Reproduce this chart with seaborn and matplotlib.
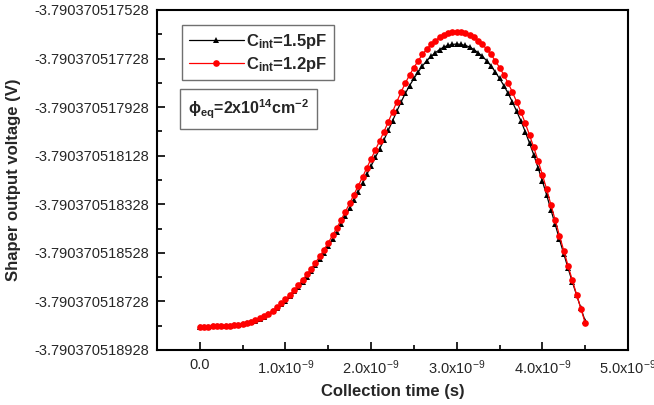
import numpy as np
import pandas as pd
import seaborn as sns
import matplotlib
matplotlib.use('Agg')
import matplotlib.pyplot as plt
from matplotlib.ticker import FixedLocator, FixedFormatter

# collection time (ns)
time_ns = [
    0.00, 0.05, 0.10, 0.15, 0.20, 0.25, 0.30, 0.35, 0.40, 0.45,
    0.50, 0.55, 0.60, 0.65, 0.70, 0.75, 0.80, 0.85, 0.90, 0.95,
    1.00, 1.05, 1.10, 1.15, 1.20, 1.25, 1.30, 1.35, 1.40, 1.45,
    1.50, 1.55, 1.60, 1.65, 1.70, 1.75, 1.80, 1.85, 1.90, 1.95,
    2.00, 2.05, 2.10, 2.15, 2.20, 2.25, 2.30, 2.35, 2.40, 2.45,
    2.50, 2.55, 2.60, 2.65, 2.70, 2.75, 2.80, 2.85, 2.90, 2.95,
    3.00, 3.05, 3.10, 3.15, 3.20, 3.25, 3.30, 3.35, 3.40, 3.45,
    3.50, 3.55, 3.60, 3.65, 3.70, 3.75, 3.80, 3.85, 3.90, 3.95,
    4.00, 4.05, 4.10, 4.15, 4.20, 4.25, 4.30, 4.35, 4.40, 4.45,
    4.50,
]

# shaper output (V), Cint = 1.5 pF
v_cint_15 = [
    -3.790370518832, -3.790370518832, -3.790370518832, -3.790370518831, -3.790370518831,
    -3.790370518830, -3.790370518829, -3.790370518828, -3.790370518826, -3.790370518824,
    -3.790370518821, -3.790370518818, -3.790370518813, -3.790370518807, -3.790370518799,
    -3.790370518791, -3.790370518780, -3.790370518769, -3.790370518755, -3.790370518740,
    -3.790370518725, -3.790370518707, -3.790370518687, -3.790370518668, -3.790370518647,
    -3.790370518626, -3.790370518603, -3.790370518579, -3.790370518555, -3.790370518528,
    -3.790370518501, -3.790370518472, -3.790370518442, -3.790370518410, -3.790370518378,
    -3.790370518345, -3.790370518311, -3.790370518276, -3.790370518242, -3.790370518205,
    -3.790370518170, -3.790370518135, -3.790370518099, -3.790370518063, -3.790370518024,
    -3.790370517985, -3.790370517945, -3.790370517907, -3.790370517871, -3.790370517839,
    -3.790370517810, -3.790370517783, -3.790370517758, -3.790370517737, -3.790370517719,
    -3.790370517704, -3.790370517691, -3.790370517680, -3.790370517674, -3.790370517670,
    -3.790370517668, -3.790370517670, -3.790370517674, -3.790370517680, -3.790370517691,
    -3.790370517704, -3.790370517719, -3.790370517737, -3.790370517758, -3.790370517783,
    -3.790370517810, -3.790370517839, -3.790370517871, -3.790370517907, -3.790370517945,
    -3.790370517985, -3.790370518029, -3.790370518076, -3.790370518125, -3.790370518178,
    -3.790370518232, -3.790370518290, -3.790370518351, -3.790370518411, -3.790370518473,
    -3.790370518532, -3.790370518591, -3.790370518648, -3.790370518702, -3.790370518756,
    -3.790370518809,
]

# shaper output (V), Cint = 1.2 pF
v_cint_12 = [
    -3.790370518832, -3.790370518832, -3.790370518832, -3.790370518831, -3.790370518831,
    -3.790370518830, -3.790370518829, -3.790370518828, -3.790370518826, -3.790370518824,
    -3.790370518821, -3.790370518817, -3.790370518812, -3.790370518806, -3.790370518798,
    -3.790370518789, -3.790370518778, -3.790370518766, -3.790370518752, -3.790370518736,
    -3.790370518720, -3.790370518701, -3.790370518681, -3.790370518661, -3.790370518639,
    -3.790370518617, -3.790370518593, -3.790370518568, -3.790370518543, -3.790370518515,
    -3.790370518486, -3.790370518456, -3.790370518425, -3.790370518392, -3.790370518358,
    -3.790370518324, -3.790370518288, -3.790370518252, -3.790370518216, -3.790370518178,
    -3.790370518141, -3.790370518104, -3.790370518067, -3.790370518029, -3.790370517989,
    -3.790370517948, -3.790370517906, -3.790370517866, -3.790370517829, -3.790370517795,
    -3.790370517765, -3.790370517737, -3.790370517711, -3.790370517689, -3.790370517670,
    -3.790370517654, -3.790370517641, -3.790370517630, -3.790370517623, -3.790370517619,
    -3.790370517617, -3.790370517619, -3.790370517623, -3.790370517630, -3.790370517641,
    -3.790370517654, -3.790370517670, -3.790370517689, -3.790370517711, -3.790370517737,
    -3.790370517765, -3.790370517795, -3.790370517829, -3.790370517866, -3.790370517906,
    -3.790370517948, -3.790370517994, -3.790370518043, -3.790370518094, -3.790370518149,
    -3.790370518206, -3.790370518266, -3.790370518330, -3.790370518393, -3.790370518457,
    -3.790370518519, -3.790370518581, -3.790370518641, -3.790370518700, -3.790370518758,
    -3.790370518816,
]

y_ticks = [
    -3.790370518928, -3.790370518728, -3.790370518528, -3.790370518328,
    -3.790370518128, -3.790370517928, -3.790370517728, -3.790370517528,
]
y_tick_labels = ['%.12f' % v for v in y_ticks]
x_ticks_ns = [0.0, 1.0, 2.0, 3.0, 4.0, 5.0]
x_tick_labels = ['0.0', '1.0x10$^{-9}$', '2.0x10$^{-9}$', '3.0x10$^{-9}$',
                 '4.0x10$^{-9}$', '5.0x10$^{-9}$']

sns.set_theme(style='ticks')
plt.rcParams['font.family'] = ['Liberation Sans', 'DejaVu Sans']
plt.rcParams['mathtext.fontset'] = 'custom'
plt.rcParams['mathtext.rm'] = 'Liberation Sans'
plt.rcParams['mathtext.bf'] = 'Liberation Sans:bold'
plt.rcParams['mathtext.it'] = 'Liberation Sans:italic'
plt.rcParams['mathtext.default'] = 'regular'

df = pd.DataFrame({
    't': np.array(time_ns) * 1e-9,
    'v15': v_cint_15,
    'v12': v_cint_12,
})

fig = plt.figure(figsize=(6.54, 4.05), dpi=100)
ax = fig.add_axes([157 / 654, 55 / 405, 471 / 654, 340 / 405])

sns.lineplot(data=df, x='t', y='v15', ax=ax, color='black', lw=0.9,
             marker='^', markersize=4.8, markeredgewidth=0, estimator=None,
             sort=False, label='C$_{\\mathbf{int}}$=1.5pF', zorder=2)
sns.lineplot(data=df, x='t', y='v12', ax=ax, color='#ff0000', lw=0.9,
             marker='o', markersize=4.8, markeredgewidth=0, estimator=None,
             sort=False, label='C$_{\\mathbf{int}}$=1.2pF', zorder=3)

ax.set_xlim(-0.5e-9, 5.0e-9)
ax.set_ylim(y_ticks[0], y_ticks[-1])

ax.xaxis.set_major_locator(FixedLocator([v * 1e-9 for v in x_ticks_ns]))
ax.xaxis.set_major_formatter(FixedFormatter(x_tick_labels))
ax.xaxis.set_minor_locator(FixedLocator([(v + 0.5) * 1e-9 for v in x_ticks_ns[:-1]]))
ax.yaxis.set_major_locator(FixedLocator(y_ticks))
ax.yaxis.set_major_formatter(FixedFormatter(y_tick_labels))
ax.yaxis.set_minor_locator(FixedLocator([(a + b) / 2 for a, b in zip(y_ticks[:-1], y_ticks[1:])]))

ax.tick_params(which='both', direction='in', color='black', top=False, right=False)
ax.tick_params(which='major', length=6, width=1.2, labelsize=10.5, pad=6)
ax.tick_params(which='minor', length=3.5, width=1.2)
for s in ax.spines.values():
    s.set_color('black')
    s.set_linewidth(1.5)

ax.set_xlabel('Collection time (s)', fontsize=12, fontweight='bold', labelpad=5)
ax.set_ylabel('Shaper output voltage (V)', fontsize=12, fontweight='bold', labelpad=9)

leg = ax.legend(loc='upper left', bbox_to_anchor=(0.053, 0.956), prop={'size': 12, 'weight': 'bold'},
                frameon=True, fancybox=False, handlelength=3.3, borderpad=0.4,
                labelspacing=0.25, handletextpad=0.15, borderaxespad=0)
leg.get_frame().set_edgecolor('#707070')
leg.get_frame().set_linewidth(1.0)
leg.get_frame().set_alpha(1)

ax.text(0.066, 0.709, 'ϕ$_{\\mathbf{eq}}$=2x10$^{\\mathbf{14}}$cm$^{\\mathbf{-2}}$',
        transform=ax.transAxes, fontsize=11.5, fontweight='bold', va='center', ha='left',
        bbox=dict(boxstyle='square,pad=0.5', fc='white', ec='#707070', lw=1.0))

fig.savefig('out.png', dpi=100)
